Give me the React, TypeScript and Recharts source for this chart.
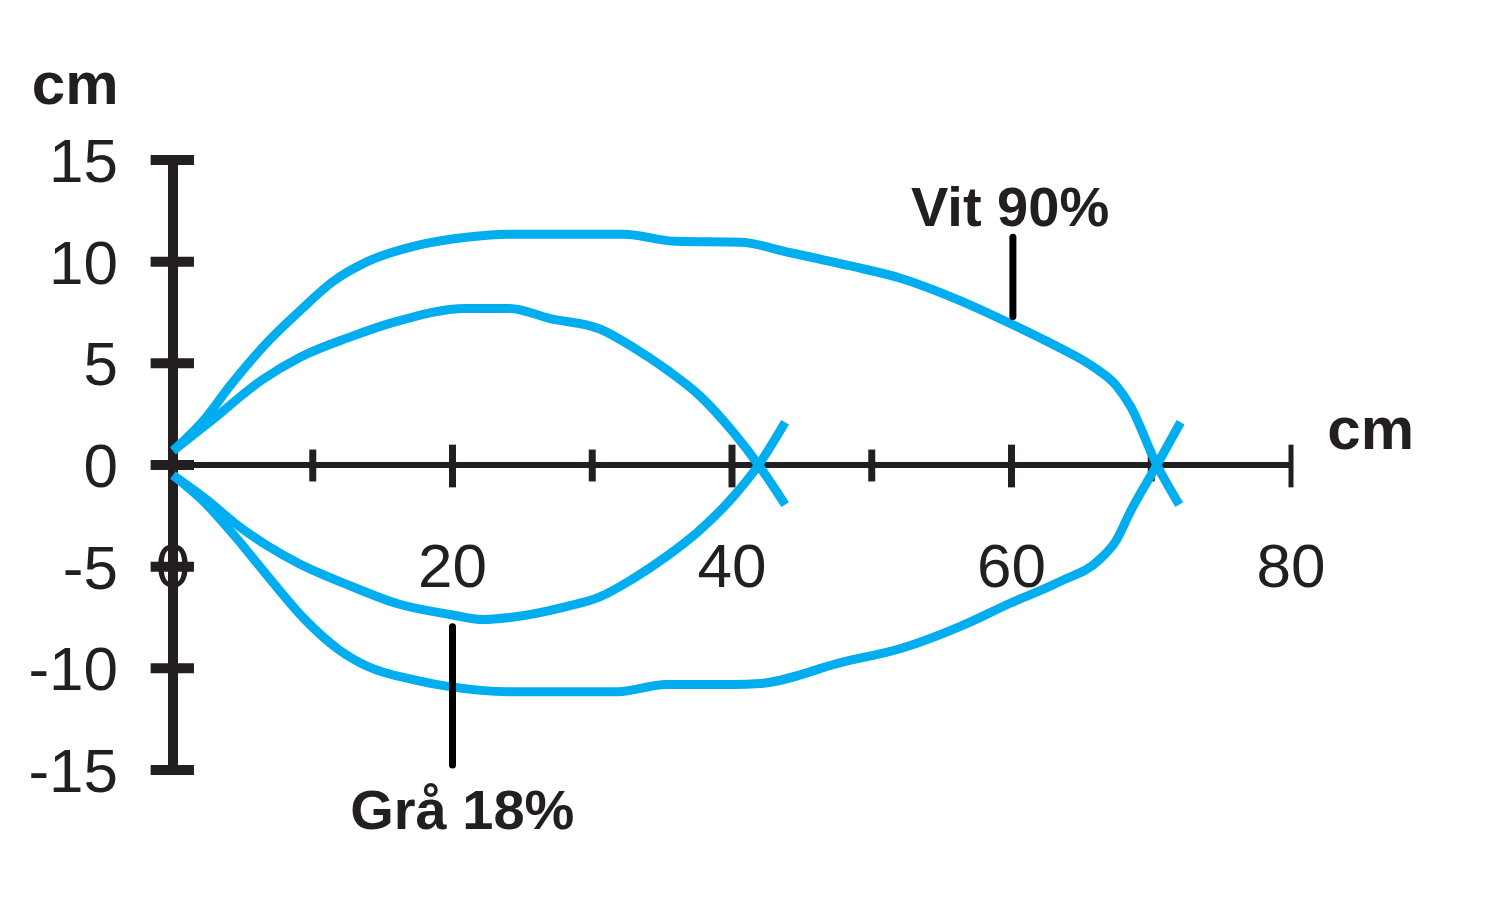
import { LineChart, Line, XAxis, YAxis, ReferenceLine, ReferenceDot } from 'recharts'

type Pt = [number, number]

// kurvor läst ur bilden, [avstånd cm, sidled cm]
const vitUpper: Pt[] = [
  [0, 0.7], [2.2, 2.2], [4.2, 4.0], [6.7, 6.0], [9.1, 7.6], [11.4, 9.0], [13.9, 10.0],
  [17.5, 10.8], [21.0, 11.2], [24.0, 11.35], [32.2, 11.35], [36.0, 11.0], [40.6, 10.95],
  [44.1, 10.45], [48.4, 9.8], [52.0, 9.2], [56.1, 8.15], [60.1, 6.9], [63.2, 5.85],
  [65.8, 4.85], [67.5, 3.9], [68.5, 2.9], [70.4, 0], [72.0, -1.95],
]
const vitLower: Pt[] = [
  [0, -0.5], [2.2, -1.8], [4.3, -3.4], [6.7, -5.4], [9.3, -7.5], [11.9, -9.1], [13.9, -9.9],
  [17.5, -10.6], [19.8, -10.9], [24.0, -11.15], [31.8, -11.15], [35.3, -10.8], [40.1, -10.8],
  [42.0, -10.75], [47.9, -9.7], [52.2, -9.0], [56.3, -7.95], [59.9, -6.8], [63.4, -5.75],
  [66.3, -4.65], [67.5, -3.7], [68.5, -2.3], [70.4, 0], [72.1, 2.1],
]
const graUpper: Pt[] = [
  [0, 0.7], [2.6, 2.1], [6.4, 4.2], [9.1, 5.3], [12.7, 6.3], [15.7, 7.0], [21.0, 7.7],
  [24.1, 7.7], [27.0, 7.2], [30.5, 6.7], [32.9, 5.8], [35.3, 4.7], [37.7, 3.4], [40.1, 1.6],
  [41.9, 0], [43.8, -1.95],
]
const graLower: Pt[] = [
  [0, -0.5], [2.4, -1.7], [4.5, -2.9], [6.7, -3.95], [9.0, -4.85], [12.7, -5.95], [16.2, -6.85],
  [19.8, -7.35], [22.2, -7.6], [24.1, -7.5], [28.2, -6.95], [30.5, -6.5], [32.9, -5.6],
  [35.3, -4.5], [37.7, -3.2], [40.1, -1.55], [41.9, 0], [43.8, 2.1],
]

const xTicksMinor = [10, 30, 50, 70]
const xTicksMajor = [20, 40, 60, 80]
const xLabels = [0, 20, 40, 60, 80]
const yTicks = [-15, -10, -5, 0, 5, 10, 15]

const BLUE = '#00aeef'
const INK = '#231f20'
const FONT = '"Liberation Sans", Arial, Helvetica, sans-serif'

const toRows = (pts: Pt[]) => pts.map(([x, y]) => ({ x, y }))

const series = [vitUpper, vitLower, graUpper, graLower]

export default function App() {
  return (
    <div style={{ position: 'absolute', left: 0, top: 0, fontFamily: FONT, background: '#fff' }}>
      <LineChart width={1500} height={914} margin={{ top: 160, right: 209, bottom: 144, left: 113 }}>
        <XAxis type="number" dataKey="x" domain={[0, 80]} hide allowDuplicatedCategory={false} />
        <YAxis
          type="number"
          dataKey="y"
          domain={[-15, 15]}
          ticks={yTicks}
          width={60}
          axisLine={false}
          tickLine={false}
          tickSize={0}
          tickMargin={55}
          tick={{ fontSize: 62, fill: INK }}
        />

        {/* axlar */}
        <ReferenceLine y={0} stroke={INK} strokeWidth={6} ifOverflow="visible" />
        <ReferenceLine
          segment={[{ x: 0, y: -15 }, { x: 0, y: 15 }]}
          stroke={INK}
          strokeWidth={10}
          ifOverflow="visible"
        />
        {yTicks.map((v) => (
          <ReferenceLine
            key={'yt' + v}
            segment={[{ x: -1.6, y: v }, { x: 1.5, y: v }]}
            stroke={INK}
            strokeWidth={10}
            ifOverflow="visible"
          />
        ))}
        {xTicksMinor.map((v) => (
          <ReferenceLine
            key={'xm' + v}
            segment={[{ x: v, y: 0.76 }, { x: v, y: -0.81 }]}
            stroke={INK}
            strokeWidth={7}
            ifOverflow="visible"
          />
        ))}
        {xTicksMajor.map((v) => (
          <ReferenceLine
            key={'xM' + v}
            segment={[{ x: v, y: 1.0 }, { x: v, y: -1.1 }]}
            stroke={INK}
            strokeWidth={v === 80 ? 5 : 7}
            ifOverflow="visible"
          />
        ))}
        {xLabels.map((v) => (
          <ReferenceDot
            key={'xl' + v}
            x={v}
            y={-4.93}
            r={0}
            stroke="none"
            ifOverflow="visible"
            label={{ value: String(v), position: 'center', fontSize: 62, fill: INK }}
          />
        ))}

        {series.map((s, i) => (
          <Line
            key={'s' + i}
            data={toRows(s)}
            dataKey="y"
            type="monotone"
            stroke={BLUE}
            strokeWidth={9}
            dot={false}
            activeDot={false}
            isAnimationActive={false}
          />
        ))}

        {/* pekare till etiketter */}
        <ReferenceLine
          segment={[{ x: 60.1, y: 11.2 }, { x: 60.1, y: 7.3 }]}
          stroke="#000"
          strokeWidth={7}
          strokeLinecap="round"
          ifOverflow="visible"
        />
        <ReferenceLine
          segment={[{ x: 20, y: -7.95 }, { x: 20, y: -14.75 }]}
          stroke="#000"
          strokeWidth={7}
          strokeLinecap="round"
          ifOverflow="visible"
        />

        <ReferenceDot
          x={-7.0}
          y={18.8}
          r={0}
          stroke="none"
          ifOverflow="visible"
          label={{ value: 'cm', position: 'center', fontSize: 60, fontWeight: 'bold', fill: INK }}
        />
        <ReferenceDot
          x={85.7}
          y={1.82}
          r={0}
          stroke="none"
          ifOverflow="visible"
          label={{ value: 'cm', position: 'center', fontSize: 60, fontWeight: 'bold', fill: INK }}
        />
        <ReferenceDot
          x={59.9}
          y={12.73}
          r={0}
          stroke="none"
          ifOverflow="visible"
          label={{ value: 'Vit 90%', position: 'center', fontSize: 56, fontWeight: 'bold', fill: INK }}
        />
        <ReferenceDot
          x={20.7}
          y={-16.9}
          r={0}
          stroke="none"
          ifOverflow="visible"
          label={{ value: 'Grå 18%', position: 'center', fontSize: 56, fontWeight: 'bold', fill: INK }}
        />
      </LineChart>
    </div>
  )
}
